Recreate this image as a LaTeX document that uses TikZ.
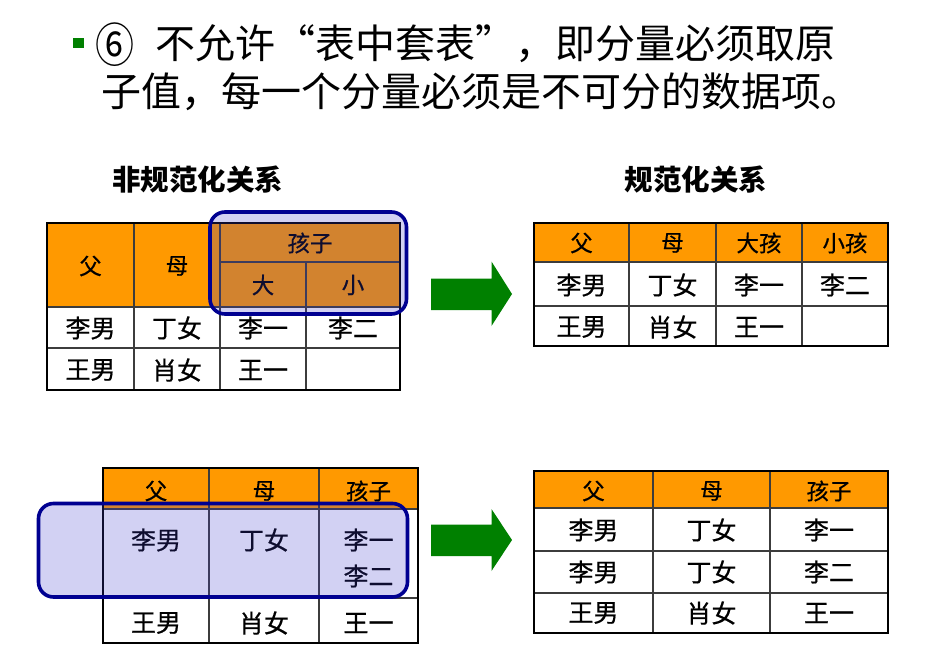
\documentclass[tikz,border=0pt]{standalone}
\usepackage{fontspec}
\setmainfont{Noto Sans CJK SC}
\definecolor{hdr}{RGB}{255,153,0}
\definecolor{arrowgreen}{RGB}{0,128,0}
\definecolor{navy}{RGB}{0,0,145}
\definecolor{lav}{RGB}{62,58,205}
\definecolor{inner}{RGB}{60,60,60}
\tikzset{
  outerline/.style={line width=2.6pt, black},
  innerline/.style={line width=1.2pt, inner},
  hfill/.style={fill=hdr},
  htxt/.style={font=\fontsize{22.5}{22.5}\selectfont\addfontfeature{FakeBold=0.6}, inner sep=0pt},
  btxt/.style={font=\fontsize{25}{25}\selectfont\addfontfeature{FakeBold=0.6}, inner sep=0pt},
  subtitle/.style={font=\fontsize{28.5}{28.5}\selectfont\bfseries, inner sep=0pt},
  titletxt/.style={font=\fontsize{40}{40}\selectfont, inner sep=0pt, anchor=west},
  overlay/.style={line width=3.6pt, draw=navy, fill=lav, fill opacity=0.23, rounded corners=15pt},
  bigarrow/.style={fill=arrowgreen},
}
\begin{document}
\begin{tikzpicture}[x=1pt,y=-1pt]
\useasboundingbox (0,0) rectangle (930,667);
\fill[white] (0,0) rectangle (930,667);

% ---------- title ----------
\fill[arrowgreen] (73,38) rectangle (83.5,47.5);
\node[font=\fontsize{47}{47}\selectfont, inner sep=0pt] (t0) at (115.5,45) {\scalebox{0.83}[1]{⑥}};
\node[titletxt] (t1) at (155,44) {不允许“表中套表”，即分量必须取原};
\node[titletxt] (t2) at (101,92) {子值，每一个分量必须是不可分的数据项。};

% ---------- subtitles ----------
\node[subtitle] (s1) at (197.5,180) {非规范化关系};
\node[subtitle] (s2) at (696,180) {规范化关系};

% ---------- top-left table ----------
\fill[hfill] (47,223) rectangle (400,307);
\draw[innerline] (220,262) -- (400,262);
\draw[innerline] (47,348) -- (400,348);
\draw[innerline] (47,307) -- (400,307);
\draw[innerline] (134,223) -- (134,390);
\draw[innerline] (220,223) -- (220,390);
\draw[innerline] (306,262) -- (306,390);
\draw[outerline] (47,223) rectangle (400,390);
\node[htxt] (a1) at (90.5,266) {父};
\node[htxt] (a2) at (177,266) {母};
\node[htxt] (a3) at (310,243) {孩子};
\node[htxt] (a4) at (263,285) {大};
\node[htxt] (a5) at (353,285) {小};
\node[btxt] (a6) at (90.5,328) {李男};
\node[btxt] (a7) at (177,328) {丁女};
\node[btxt] (a8) at (263,328) {李一};
\node[btxt] (a9) at (353,328) {李二};
\node[btxt] (a10) at (90.5,370) {王男};
\node[btxt] (a11) at (177,370) {肖女};
\node[btxt] (a12) at (263,370) {王一};
\draw[overlay] (210,212) rectangle (406.5,314);

% ---------- top arrow ----------
\fill[bigarrow] (431,278.5) -- (491.5,278.5) -- (491.5,261.5) -- (512,294) -- (491.5,326) -- (491.5,310) -- (431,310) -- cycle;

% ---------- top-right table ----------
\fill[hfill] (534,223) rectangle (888,262);
\draw[innerline] (534,262) -- (888,262);
\draw[innerline] (534,306) -- (888,306);
\draw[innerline] (629,223) -- (629,346);
\draw[innerline] (716,223) -- (716,346);
\draw[innerline] (802,223) -- (802,346);
\draw[outerline] (534,223) rectangle (888,346);
\node[htxt] (b1) at (581.5,243) {父};
\node[htxt] (b2) at (672.5,243) {母};
\node[htxt] (b3) at (759,243) {大孩};
\node[htxt] (b4) at (845,243) {小孩};
\node[btxt] (b5) at (581.5,285) {李男};
\node[btxt] (b6) at (672.5,285) {丁女};
\node[btxt] (b7) at (759,285) {李一};
\node[btxt] (b8) at (845,285) {李二};
\node[btxt] (b9) at (581.5,327) {王男};
\node[btxt] (b10) at (672.5,327) {肖女};
\node[btxt] (b11) at (759,327) {王一};

% ---------- bottom-left table ----------
\fill[hfill] (103,468) rectangle (418,509);
\draw[innerline] (103,509) -- (418,509);
\draw[innerline] (103,598) -- (418,598);
\draw[innerline] (209,468) -- (209,643);
\draw[innerline] (319,468) -- (319,643);
\draw[outerline] (103,468) rectangle (418,643);
\node[htxt] (c1) at (156,491) {父};
\node[htxt] (c2) at (264,491) {母};
\node[htxt] (c3) at (368.5,491) {孩子};
\node[btxt] (c4) at (156,540) {李男};
\node[btxt] (c5) at (264,540) {丁女};
\node[btxt] (c6) at (368.5,540) {李一};
\node[btxt] (c7) at (368.5,576) {李二};
\node[btxt] (c8) at (156,623) {王男};
\node[btxt] (c9) at (264,623) {肖女};
\node[btxt] (c10) at (368.5,623) {王一};
\draw[overlay] (38.5,503.5) rectangle (407.5,597);

% ---------- bottom arrow ----------
\fill[bigarrow] (431,524.5) -- (491.5,524.5) -- (491.5,509) -- (512,540) -- (491.5,571) -- (491.5,556) -- (431,556) -- cycle;

% ---------- bottom-right table ----------
\fill[hfill] (534,471) rectangle (888,508);
\draw[innerline] (534,508) -- (888,508);
\draw[innerline] (534,551) -- (888,551);
\draw[innerline] (534,593) -- (888,593);
\draw[innerline] (653,471) -- (653,633);
\draw[innerline] (770,471) -- (770,633);
\draw[outerline] (534,471) rectangle (888,633);
\node[htxt] (d1) at (593.5,491) {父};
\node[htxt] (d2) at (711.5,491) {母};
\node[htxt] (d3) at (829,491) {孩子};
\node[btxt] (d4) at (593.5,530) {李男};
\node[btxt] (d5) at (711.5,530) {丁女};
\node[btxt] (d6) at (829,530) {李一};
\node[btxt] (d7) at (593.5,572) {李男};
\node[btxt] (d8) at (711.5,572) {丁女};
\node[btxt] (d9) at (829,572) {李二};
\node[btxt] (d10) at (593.5,613) {王男};
\node[btxt] (d11) at (711.5,613) {肖女};
\node[btxt] (d12) at (829,613) {王一};
\end{tikzpicture}
\end{document}
